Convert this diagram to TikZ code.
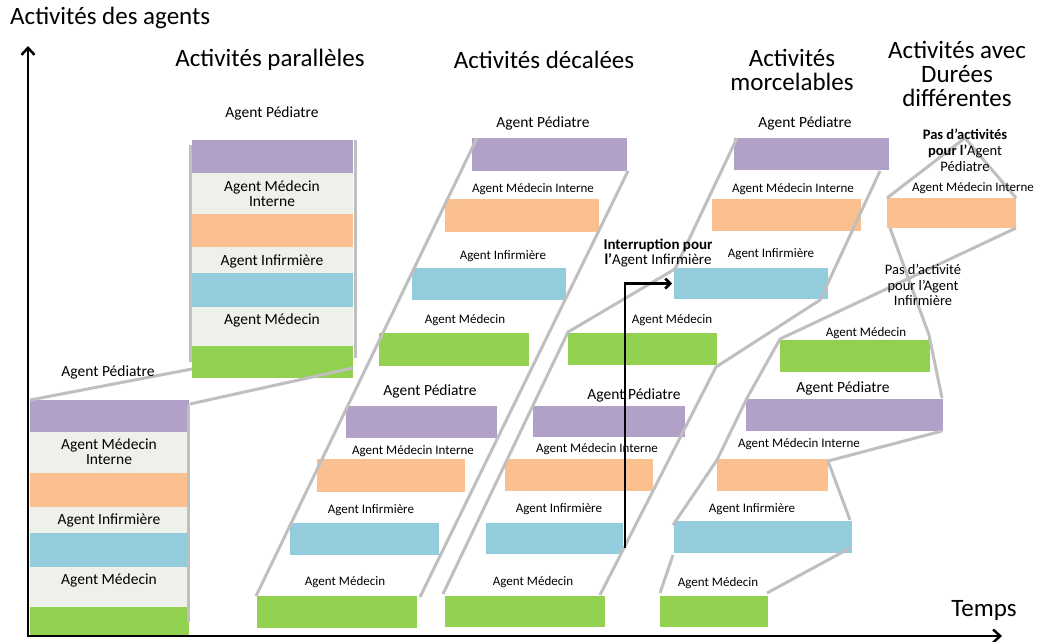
\documentclass[tikz,border=0pt]{standalone}
\usepackage{fontspec}
\setmainfont{Carlito}
\usetikzlibrary{fit,arrows.meta}
\definecolor{cPur}{HTML}{B1A0C7}
\definecolor{cOra}{HTML}{FAC090}
\definecolor{cBlu}{HTML}{93CDDD}
\definecolor{cGre}{HTML}{92D050}
\definecolor{cLig}{HTML}{EEF1E9}
\definecolor{cGry}{HTML}{BFBFBF}
\newcommand\ab[6]{\node[barbox, fill=#6, fit={(#2,#3)(#4,#5)}] (#1) {};}
\begin{document}
\begin{tikzpicture}[x=1pt,y=-1pt,
  barbox/.style={inner sep=0pt, outer sep=0pt, draw=none},
  gl/.style={draw=cGry, line width=3pt, line join=round},
  ttl/.style={font=\fontsize{25}{24}\selectfont, align=center, inner sep=0pt},
  lab/.style={font=\fontsize{15.5}{15}\selectfont, align=center, inner sep=0pt},
  sm/.style={font=\fontsize{13}{15}\selectfont, align=center, inner sep=0pt},
  axis/.style={draw=black, line width=2.5pt, -{Straight Barb[length=7pt,width=13pt]}}]
\useasboundingbox (0,0) rectangle (1038,641);
% ---- block 1 (parallel, bottom)
\draw[gl] (31,402) -- (31,630);
\ab{b1l}{30}{400}{189}{637}{cLig}
\ab{b1p}{30}{400}{189}{432}{cPur}
\ab{b1o}{30}{473}{189}{507}{cOra}
\ab{b1b}{30}{533}{189}{567}{cBlu}
\ab{b1g}{30}{607}{189}{637}{cGre}
% ---- block 2 (parallel, top)
\ab{b2l}{192}{140}{353}{378}{cLig}
\ab{b2p}{192}{140}{353}{173}{cPur}
\ab{b2o}{192}{214}{353}{247}{cOra}
\ab{b2b}{192}{273}{353}{307}{cBlu}
\ab{b2g}{192}{346}{353}{378}{cGre}
% ---- décalées col 1
\ab{d1p}{472}{138}{627}{171}{cPur}
\ab{d1o}{445}{199}{599}{232}{cOra}
\ab{d1b}{412}{268}{566}{300}{cBlu}
\ab{d1g}{379}{333}{529}{366}{cGre}
\ab{e1p}{346}{406}{497}{438}{cPur}
\ab{e1o}{317}{459}{465}{492}{cOra}
\ab{e1b}{290}{523}{439}{555}{cBlu}
\ab{e1g}{257}{596}{417}{628}{cGre}
% ---- col 2
\ab{mp}{734}{138}{889}{170}{cPur}
\ab{mo}{712}{199}{861}{231}{cOra}
\ab{mb}{674}{268}{828}{299}{cBlu}
\ab{mg}{568}{333}{717}{365}{cGre}
\ab{e2p}{533}{406}{685}{437}{cPur}
\ab{e2o}{505}{459}{653}{491}{cOra}
\ab{e2b}{486}{523}{623}{554}{cBlu}
\ab{e2g}{445}{596}{605}{627}{cGre}
% ---- col 3
\ab{fo}{887}{198}{1016}{228}{cOra}
\ab{fg}{780}{340}{930}{372}{cGre}
\ab{hp}{746}{399}{943}{431}{cPur}
\ab{ho}{717}{459}{828}{491}{cOra}
\ab{hb}{674}{521}{852}{553}{cBlu}
\ab{hg}{660}{596}{768}{627}{cGre}
% ---- grey connectors
\draw[gl] (b1p.north west) -- (192,369);
\draw[gl] (190,404) -- (353,368);
\draw[gl] (190,145) -- (190,362);
\draw[gl] (355,140) -- (355,358);
\draw[gl] (188,405) -- (188,622);
\draw[gl] (477,138) -- (256,596);
\draw[gl] (628,171) -- (420,597);
\draw[gl] (737,138) -- (675,269) -- (568,332) -- (443,594);
\draw[gl] (880,171) -- (820,300) -- (716,367) -- (600,595);
\draw[gl] (660,593) -- (673,555);
\draw[gl] (673,525) -- (717,460) -- (747,398) -- (780,339) -- (1016,228);
\draw[gl] (890,228) -- (929,335) -- (942,398);
\draw[gl] (942,431) -- (828,461) -- (850,520);
\draw[gl] (850,548) -- (767,593);
\draw[gl] (887,198) -- (965,138) -- (1016,198);
% ---- axes
\coordinate (O) at (28,636);
\coordinate (Ytop) at (28,46);
\coordinate (Xend) at (1002,636);
\draw[axis] ([yshift=-1.2pt]O) -- (Ytop);
\draw[axis] ([xshift=-1.2pt]O) -- (Xend);
% ---- interruption arrow
\coordinate (i0) at (625,548);
\draw[draw=black, line width=2.5pt, -{Straight Barb[length=5pt,width=10pt]}] (i0) |- ([xshift=-2pt]mb.west);
% ---- titles
\node[ttl, anchor=west] (t0) at (10,18) {Activités des agents};
\node[ttl] (t1) at (270,60) {Activités parallèles};
\node[ttl] (t2) at (544,60) {Activités décalées};
\node[ttl] (t3) at (792,70) {Activités\\morcelables};
\node[ttl] (t4) at (957,74) {Activités avec\\Durées\\différentes};
\node[ttl] (t5) at (984,610) {Temps};
% ---- parallel labels
\node[lab] (a1) at (108,372) {Agent Pédiatre};
\node[lab] (a2) at (109,452) {Agent Médecin\\Interne};
\node[lab] (a3) at (109,520) {Agent Infirmière};
\node[lab] (a4) at (109,580) {Agent Médecin};
\node[lab] (a5) at (272,113) {Agent Pédiatre};
\node[lab] (a6) at (272,194) {Agent Médecin\\Interne};
\node[lab] (a7) at (272,261) {Agent Infirmière};
\node[lab] (a8) at (272,320) {Agent Médecin};
% ---- décalées col 1 labels
\node[lab] (c1) at (543,123) {Agent Pédiatre};
\node[sm] (c2) at (533,189) {Agent Médecin Interne};
\node[sm] (c3) at (503,256) {Agent Infirmière};
\node[sm] (c4) at (465,320) {Agent Médecin};
\node[lab] (c5) at (430,391) {Agent Pédiatre};
\node[sm] (c6) at (413,451) {Agent Médecin Interne};
\node[sm] (c7) at (371,510) {Agent Infirmière};
\node[sm] (c8) at (345,582) {Agent Médecin};
% ---- col 2 labels
\node[lab] (m1) at (805,123) {Agent Pédiatre};
\node[sm] (m2) at (793,189) {Agent Médecin Interne};
\node[sm] (m3) at (771,254) {Agent Infirmière};
\node[sm] (m4) at (672,320) {Agent Médecin};
\node[lab] (m5) at (634,395) {Agent Pédiatre};
\node[sm] (m6) at (597,449) {Agent Médecin Interne};
\node[sm] (m7) at (559,509) {Agent Infirmière};
\node[sm] (m8) at (533,582) {Agent Médecin};
\node[font=\fontsize{15}{15}\selectfont, align=center, inner sep=0pt] (int) at (658,253) {\textbf{Interruption pour}\\\textbf{l’}Agent Infirmière};
% ---- col 3 labels
\node[sm] (h1) at (866,333) {Agent Médecin};
\node[lab] (h2) at (843,388) {Agent Pédiatre};
\node[sm] (h3) at (799,444) {Agent Médecin Interne};
\node[sm] (h4) at (752,509) {Agent Infirmière};
\node[sm] (h5) at (718,583) {Agent Médecin};
\node[sm] (h6) at (973,188) {Agent Médecin Interne};
\node[font=\fontsize{14.5}{16}\selectfont, align=center, inner sep=0pt] (h7) at (965,150) {\textbf{Pas d’activités}\\\textbf{pour l’}Agent\\Pédiatre};
\node[font=\fontsize{14.5}{15.5}\selectfont, align=center, inner sep=0pt] (h8) at (923,285) {Pas d’activité\\pour l’Agent\\Infirmière};
\end{tikzpicture}
\end{document}
